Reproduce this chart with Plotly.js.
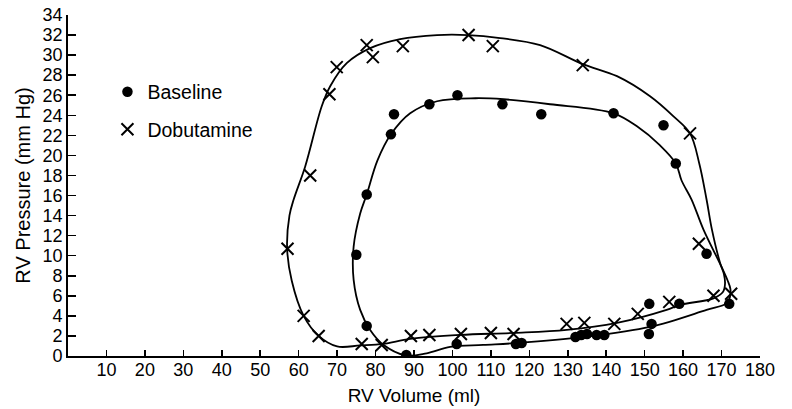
<!DOCTYPE html>
<html>
<head>
<meta charset="utf-8">
<script src="https://cdn.plot.ly/plotly-3.0.1.min.js"></script>
<style>
  html, body { margin: 0; padding: 0; background: #fff; }
  #chart { width: 792px; height: 409px; }
</style>
</head>
<body>
<div id="chart"></div>
<script>
// ---- Data ----
// Baseline measurements (filled dots)
const baselineVolume = [77.7, 75.0, 77.7, 88.0, 84.8, 84.0, 94.0, 101.3, 113.0, 123.1, 141.9, 154.9, 158.1, 166.1, 172.0, 159.0, 151.2, 151.8, 151.1, 101.1, 116.5, 118.0, 132.0, 133.5, 135.0, 137.5, 139.5];
const baselinePressure = [16.1, 10.1, 3.0, 0.1, 24.1, 22.1, 25.1, 26.0, 25.1, 24.1, 24.2, 23.0, 19.2, 10.2, 5.2, 5.2, 5.2, 3.2, 2.2, 1.2, 1.2, 1.3, 1.9, 2.1, 2.2, 2.1, 2.1];

// Dobutamine measurements (crosses)
const dobutamineVolume = [57.1, 61.3, 65.2, 63.0, 68.0, 69.9, 77.7, 79.3, 87.1, 104.2, 110.5, 133.9, 161.8, 164.1, 172.5, 167.9, 156.4, 148.2, 142.1, 134.3, 129.7, 115.9, 110.0, 102.2, 94.0, 89.2, 81.6, 76.4];
const dobutaminePressure = [10.7, 4.0, 2.0, 18.0, 26.1, 28.8, 31.0, 29.8, 30.9, 32.0, 30.9, 29.0, 22.2, 11.2, 6.2, 6.0, 5.4, 4.2, 3.2, 3.3, 3.2, 2.2, 2.3, 2.2, 2.1, 2.0, 1.1, 1.2];

// Hand-fitted pressure-volume loops
const baselineLoopVolume = [106, 113.3, 125.4, 141.9, 148, 154, 158.1, 159.6, 162.2, 165.3, 169.6, 171.6, 172.3, 172.2, 171.3, 166.1, 151.4, 134.1, 117, 108, 99.4, 93.3, 88, 82.1, 78.6, 76, 74.3, 74.3, 76, 77.7, 80.5, 84, 89, 96, 106];
const baselineLoopPressure = [25.7, 25.6, 25.1, 24.2, 22.9, 21.0, 19.2, 17.5, 15.6, 12.6, 9.2, 7.5, 6.7, 5.9, 5.25, 4.6, 2.9, 1.9, 1.3, 1.1, 0.9, 0.27, 0.05, 1.1, 2.6, 4.6, 7.6, 10.9, 14.2, 16.1, 19.5, 22.1, 24.2, 25.4, 25.7];

const dobutamineLoopVolume = [104, 112.4, 122.8, 133.9, 142.8, 151.4, 157.5, 161.8, 164.2, 166.1, 167.5, 169.6, 170.6, 170.9, 170.4, 167.9, 159.2, 155.7, 142.8, 129.7, 116, 102, 89, 82, 76, 70, 65.2, 61.3, 58.2, 57.0, 57.6, 58.7, 61.7, 66, 68.2, 72.5, 78.6, 86.4, 96, 104];
const dobutamineLoopPressure = [32.0, 31.7, 31.0, 29.1, 27.9, 25.9, 23.9, 22.2, 19.2, 15.6, 12.6, 9.3, 8.2, 7.2, 6.4, 5.75, 5.1, 4.6, 3.3, 2.6, 2.3, 2.1, 1.7, 1.2, 1.05, 0.95, 2.0, 4.0, 7.5, 10.7, 14.0, 15.6, 18.9, 24.9, 26.9, 29.2, 30.7, 31.6, 32.0, 32.0];

const xTickValues = [10, 20, 30, 40, 50, 60, 70, 80, 90, 100, 110, 120, 130, 140, 150, 160, 170, 180];
const yTickValues = [0, 2, 4, 6, 8, 10, 12, 14, 16, 18, 20, 22, 24, 26, 28, 30, 32, 34];

const FONT = '"Liberation Sans", Arial, sans-serif';

const traces = [
  {
    x: baselineLoopVolume, y: baselineLoopPressure, type: 'scatter', mode: 'lines',
    line: { color: '#000', width: 1.8, shape: 'spline', smoothing: 1 },
    showlegend: false, hoverinfo: 'skip'
  },
  {
    x: dobutamineLoopVolume, y: dobutamineLoopPressure, type: 'scatter', mode: 'lines',
    line: { color: '#000', width: 1.8, shape: 'spline', smoothing: 1 },
    showlegend: false, hoverinfo: 'skip'
  },
  {
    x: baselineVolume, y: baselinePressure, type: 'scatter', mode: 'markers',
    name: 'Baseline', legend: 'legend',
    marker: { symbol: 'circle', size: 10.5, color: '#000' }
  },
  {
    x: dobutamineVolume, y: dobutaminePressure, type: 'scatter', mode: 'markers',
    name: 'Dobutamine', legend: 'legend2',
    marker: { symbol: 'x-thin-open', size: 12, color: '#000', line: { color: '#000', width: 2 } }
  }
];

const legendCommon = {
  xanchor: 'left', yanchor: 'middle',
  bgcolor: 'rgba(0,0,0,0)', borderwidth: 0,
  font: { family: FONT, size: 19.5, color: '#000' },
  itemwidth: 30
};

const layout = {
  width: 792, height: 409,
  margin: { l: 68, r: 32, t: 15, b: 53, pad: 0 },
  paper_bgcolor: '#fff', plot_bgcolor: '#fff',
  font: { family: FONT, color: '#000' },
  showlegend: true,
  legend: Object.assign({}, legendCommon, { x: 0.057, y: 0.774 }),
  legend2: Object.assign({}, legendCommon, { x: 0.057, y: 0.664 }),
  xaxis: {
    range: [0, 180], tickmode: 'array', tickvals: xTickValues,
    ticks: 'inside', ticklen: 6, tickwidth: 1.5, tickcolor: '#000',
    showline: true, linecolor: '#000', linewidth: 1.8,
    showgrid: false, zeroline: false,
    ticklabelstandoff: -3,
    tickfont: { family: FONT, size: 18, color: '#000' },
    title: { text: 'RV Volume (ml)', font: { family: FONT, size: 19, color: '#000' }, standoff: 9 },
    fixedrange: true
  },
  yaxis: {
    range: [0, 34], tickmode: 'array', tickvals: yTickValues,
    ticks: 'inside', ticklen: 8, tickwidth: 1.5, tickcolor: '#000',
    showline: true, linecolor: '#000', linewidth: 1.8,
    showgrid: false, zeroline: false,
    tickfont: { family: FONT, size: 18, color: '#000' },
    title: { text: 'RV Pressure (mm Hg)', font: { family: FONT, size: 20, color: '#000' }, standoff: 6 },
    fixedrange: true
  }
};

Plotly.newPlot('chart', traces, layout, { displayModeBar: false, staticPlot: true });
</script>
</body>
</html>
